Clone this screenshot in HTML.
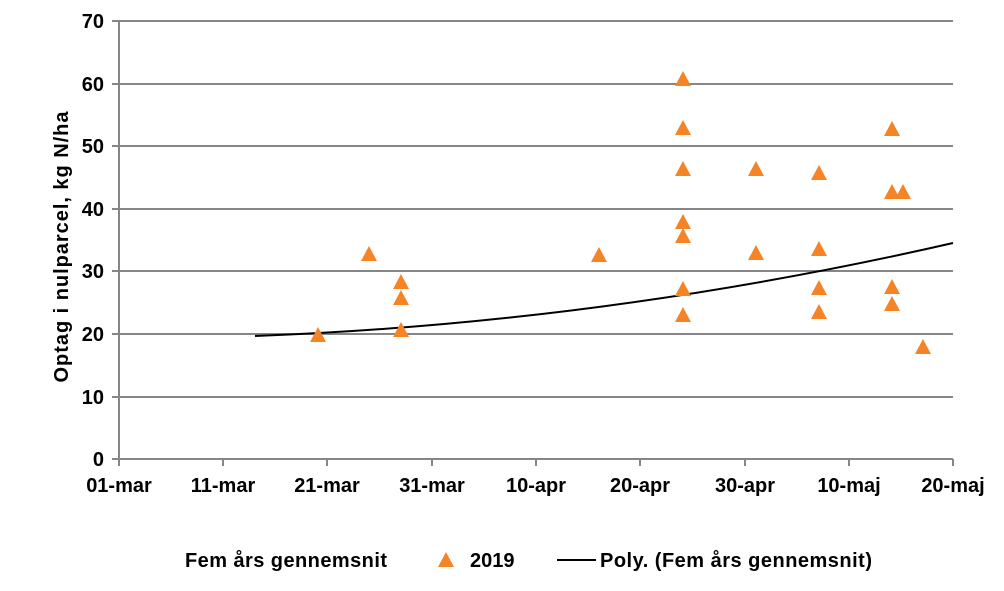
<!DOCTYPE html>
<html><head><style>body{margin:0;background:#fff}svg{display:block}text{font-family:"Liberation Sans",Arial,sans-serif;font-weight:bold;font-size:20px;fill:#000}</style></head>
<body>
<svg width="1004" height="591" viewBox="0 0 1004 591">
<defs><path id="t" d="M0,-9 L8,6 L-8,6 Z" fill="#f58426"/></defs>
<g stroke="#868686" stroke-width="2">
<line x1="119" y1="21" x2="953" y2="21"/><line x1="119" y1="84" x2="953" y2="84"/><line x1="119" y1="146" x2="953" y2="146"/><line x1="119" y1="209" x2="953" y2="209"/><line x1="119" y1="271" x2="953" y2="271"/><line x1="119" y1="334" x2="953" y2="334"/><line x1="119" y1="397" x2="953" y2="397"/>
<line x1="119" y1="459" x2="953" y2="459"/><line x1="119" y1="21" x2="119" y2="459"/>
<line x1="112" y1="21" x2="119" y2="21"/><line x1="112" y1="84" x2="119" y2="84"/><line x1="112" y1="146" x2="119" y2="146"/><line x1="112" y1="209" x2="119" y2="209"/><line x1="112" y1="271" x2="119" y2="271"/><line x1="112" y1="334" x2="119" y2="334"/><line x1="112" y1="397" x2="119" y2="397"/><line x1="112" y1="459" x2="119" y2="459"/>
<line x1="119" y1="459" x2="119" y2="466"/><line x1="223" y1="459" x2="223" y2="466"/><line x1="327" y1="459" x2="327" y2="466"/><line x1="432" y1="459" x2="432" y2="466"/><line x1="536" y1="459" x2="536" y2="466"/><line x1="640" y1="459" x2="640" y2="466"/><line x1="745" y1="459" x2="745" y2="466"/><line x1="849" y1="459" x2="849" y2="466"/><line x1="953" y1="459" x2="953" y2="466"/>
</g>
<g text-anchor="end" style="font-size:19px"><text x="104" y="28">70</text><text x="104" y="91">60</text><text x="104" y="153">50</text><text x="104" y="216">40</text><text x="104" y="278">30</text><text x="104" y="341">20</text><text x="104" y="404">10</text><text x="104" y="466">0</text></g>
<g text-anchor="middle"><text x="119" y="492">01-mar</text><text x="223" y="492">11-mar</text><text x="327" y="492">21-mar</text><text x="432" y="492">31-mar</text><text x="536" y="492">10-apr</text><text x="640" y="492">20-apr</text><text x="745" y="492">30-apr</text><text x="849" y="492">10-maj</text><text x="953" y="492">20-maj</text></g>
<text transform="translate(68,247) rotate(-90)" text-anchor="middle" textLength="271" style="font-size:20px">Optag i nulparcel, kg N/ha</text>
<path d="M255,336 Q604,323 953,243" fill="none" stroke="#000" stroke-width="2"/>
<g>
<use href="#t" x="318" y="336"/><use href="#t" x="369" y="255"/><use href="#t" x="401" y="283"/><use href="#t" x="401" y="299"/><use href="#t" x="401" y="331"/><use href="#t" x="599" y="256"/>
<use href="#t" x="683" y="80"/><use href="#t" x="683" y="129"/><use href="#t" x="683" y="170"/><use href="#t" x="683" y="223"/><use href="#t" x="683" y="237"/><use href="#t" x="683" y="290"/><use href="#t" x="683" y="316"/>
<use href="#t" x="756" y="170"/><use href="#t" x="756" y="254"/><use href="#t" x="819" y="174"/><use href="#t" x="819" y="250"/><use href="#t" x="819" y="289"/><use href="#t" x="819" y="313"/>
<use href="#t" x="892" y="130"/><use href="#t" x="892" y="193"/><use href="#t" x="903" y="193"/><use href="#t" x="892" y="288"/><use href="#t" x="892" y="305"/><use href="#t" x="923" y="348"/>
</g>
<text x="185" y="567" textLength="202">Fem års gennemsnit</text>
<use href="#t" x="446" y="561"/>
<text x="470" y="567">2019</text>
<line x1="557" y1="560" x2="596" y2="560" stroke="#000" stroke-width="2"/>
<text x="600" y="567" textLength="272">Poly. (Fem års gennemsnit)</text>
</svg>
</body></html>
